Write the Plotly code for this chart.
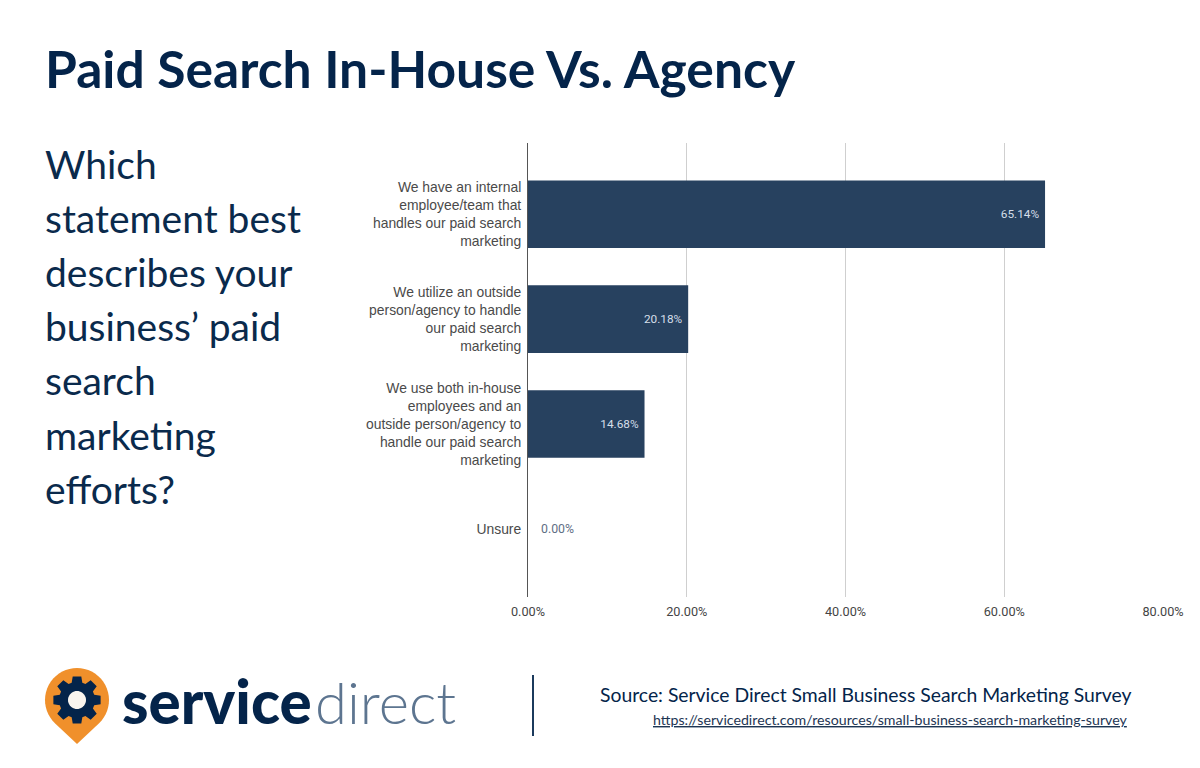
import math
import plotly.graph_objects as go

categories = [
    "We have an internal<br>employee/team that<br>handles our paid search<br>marketing",
    "We utilize an outside<br>person/agency to handle<br>our paid search<br>marketing",
    "We use both in-house<br>employees and an<br>outside person/agency to<br>handle our paid search<br>marketing",
    "Unsure",
]
values = [65.14, 20.18, 14.68, 0.0]
tick_vals = [0, 20, 40, 60, 80]
tick_text = ["0.00%", "20.00%", "40.00%", "60.00%", "80.00%"]
question_lines = ["Which", "statement best", "describes your", "business\u2019 paid", "search", "marketing", "efforts?"]

W = 1200
H = 768
NAVY = "#04244a"


# pixel helpers for the page furniture (title, logo, footer)
def px(x):
    return x / W


def py(y):
    return 1 - y / H


def note(x, y, text, size, color=NAVY, family="Lato", weight=None, anchor="left"):
    return dict(xref="paper", yref="paper", x=px(x), y=py(y), text=text, showarrow=False,
                xanchor=anchor, yanchor="middle", borderpad=0, borderwidth=0,
                font=dict(family=family, size=size, color=color, weight=weight))


def to_path(pts):
    return "M " + " L ".join(f"{px(x):.5f},{py(y):.5f}" for x, y in pts) + " Z"


def gear_path(cx, cy, r_out, r_in, teeth=8):
    pts = []
    step = 2 * math.pi / teeth
    for i in range(teeth):
        a = i * step - math.pi / 2
        for da, r in [(-0.30, r_in), (-0.18, r_out), (0.18, r_out), (0.30, r_in)]:
            pts.append((cx + r * math.cos(a + da), cy + r * math.sin(a + da)))
    return to_path(pts)


def circle_path(cx, cy, r, n=40):
    return to_path([(cx + r * math.cos(2 * math.pi * i / n), cy + r * math.sin(2 * math.pi * i / n)) for i in range(n)])


def pin_path(cx, cy, r, tip):
    pts = [(cx, tip)]
    for i in range(0, 41):
        a = math.radians(133 + i * 274 / 40)
        pts.append((cx + r * math.cos(a), cy + r * math.sin(a)))
    return to_path(pts)


labels = [f"{v:.2f}%\u00a0" if v > 0 else "" for v in values]

fig = go.Figure()
fig.add_trace(go.Bar(
    y=categories, x=values, orientation="h", width=0.645,
    marker=dict(color="#27415f", line=dict(width=0)),
    text=labels, textposition="inside", insidetextanchor="end", textangle=0,
    insidetextfont=dict(family="Roboto", size=11.8, color="#d5dfe9"),
))

annotations = [
    note(45, 68, "Paid Search In-House Vs. Agency", 51.6, weight=700),
    note(600, 694, "Source: Service Direct Small Business Search Marketing Survey", 19.35),
    note(653, 719, "<u>https://servicedirect.com/resources/small-business-search-marketing-survey</u>", 14.2, color="#1d3553"),
    note(122, 701, "service", 60, weight=900),
    note(315, 701, "direct", 58, color="#5d7590", weight=300),
    dict(xref="x", yref="y", x=values[3], y=categories[3], text=f"{values[3]:.2f}%", showarrow=False,
         xanchor="left", xshift=11, font=dict(family="Roboto", size=12.3, color="#5f6f85")),
]
for i, line in enumerate(question_lines):
    annotations.append(note(45, 163.5 + i * 54.2, line, 39, color="#0a2a4c"))

shapes = [
    dict(type="path", xref="paper", yref="paper", path=pin_path(77, 700, 32, 744),
         fillcolor="#f0902b", line=dict(width=0)),
    dict(type="path", xref="paper", yref="paper", path=gear_path(77, 700, 24, 18),
         fillcolor="#04244a", line=dict(width=0)),
    dict(type="path", xref="paper", yref="paper", path=circle_path(77, 700, 9),
         fillcolor="#f8f4ee", line=dict(width=0)),
    dict(type="line", xref="paper", yref="paper", x0=px(533), x1=px(533), y0=py(675), y1=py(736),
         line=dict(color="#1b3a5c", width=2)),
]

fig.update_layout(
    width=W, height=H, margin=dict(l=0, r=0, t=0, b=0, autoexpand=False),
    paper_bgcolor="white", plot_bgcolor="white", showlegend=False,
    xaxis=dict(domain=[px(528), px(1163)], range=[0, 80], tickvals=tick_vals, ticktext=tick_text,
               showgrid=True, gridcolor="#cfcfcf", gridwidth=1, zeroline=False, showline=False, ticks="",
               ticklabelstandoff=5, automargin=False, tickfont=dict(family="Roboto", size=12.7, color="#444444")),
    yaxis=dict(domain=[py(597), py(143)], range=[3.65, -0.68], showgrid=False, zeroline=False,
               showline=True, linecolor="#555555", linewidth=1, ticks="", ticklabelstandoff=3,
               automargin=False, tickfont=dict(family="Liberation Sans", size=13.9, color="#4a4a4a")),
    annotations=annotations, shapes=shapes,
)

# plotly leaves the browser's 8px body margin in place
fig.write_html("out.html", config=dict(displayModeBar=False), post_script="document.body.style.margin='0';")
